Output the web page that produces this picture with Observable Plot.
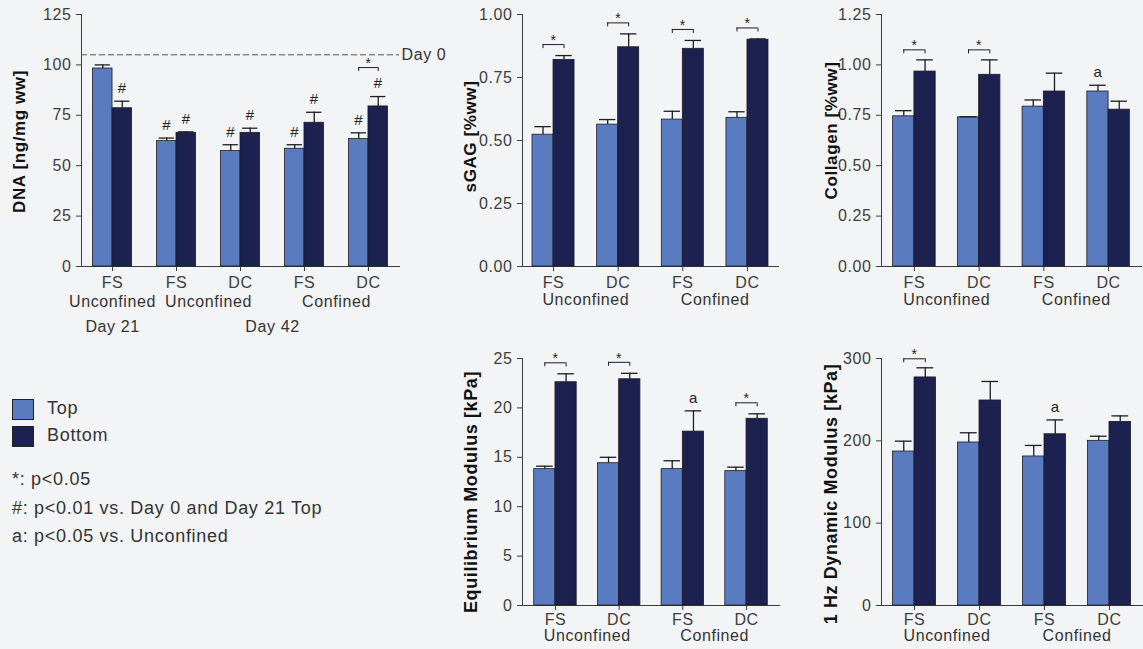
<!DOCTYPE html>
<html>
<head>
<meta charset="utf-8">
<script src="https://cdn.jsdelivr.net/npm/d3@7"></script>
<script src="https://cdn.jsdelivr.net/npm/@observablehq/plot@0.6"></script>
<style>
  body { margin: 0; background: #f3f4f6; }
  #fig { position: relative; width: 1143px; height: 649px; overflow: hidden;
         font-family: "Liberation Sans", Arial, sans-serif; background: #f3f4f6; }
  .panel { position: absolute; }
  .panel svg text { letter-spacing: 0.6px; }
  .panel g[aria-label="ylabel"] text { letter-spacing: 1.5px; }
  .legend { position: absolute; left: 12px; color: #333; font-size: 18px; letter-spacing: 0.7px; white-space: nowrap; }
  .sw { position: absolute; left: 12px; width: 22px; height: 21px; box-sizing: border-box; border: 1px solid #222; }
</style>
</head>
<body>
<div id="fig"></div>
<script>
// ---------- colours / series ----------
const seriesNames = ["Top", "Bottom"];
const TOP_COLOR = "#5b7bc0";
const BOTTOM_COLOR = "#1d2150";
const INK = "#1c1c24";
const FONT = "'Liberation Sans', Arial, sans-serif";

// ---------- DNA ----------
const dnaCategories = ["FS-Unconf-D21", "FS-Unconf-D42", "DC-Unconf-D42", "FS-Conf-D42", "DC-Conf-D42"];
const dnaTickLabels = ["FS", "FS", "DC", "FS", "DC"];
const dnaTop = [98.2, 62.2, 57.3, 58.4, 63.3];
const dnaTopErr = [1.8, 1.5, 3.1, 2.0, 3.0];
const dnaBottom = [78.5, 66.3, 66.3, 71.3, 79.4];
const dnaBottomErr = [3.5, 0.5, 2.3, 5.2, 4.9];
const dnaTopNote = ["", "#", "#", "#", "#"];
const dnaBottomNote = ["#", "#", "#", "#", "#"];
const dnaStar = [false, false, false, false, true];
const dnaDay0 = 105;
const dnaYTicks = [0, 25, 50, 75, 100, 125];
const dnaRow2 = [["Unconfined", 0, 0], ["Unconfined", 1, 2], ["Confined", 3, 4]];
const dnaRow3 = [["Day 21", 0, 0], ["Day 42", 1, 4]];

// ---------- shared 4-group layout ----------
const fourCategories = ["FS-Unconf", "DC-Unconf", "FS-Conf", "DC-Conf"];
const fourTickLabels = ["FS", "DC", "FS", "DC"];
const fourRow2 = [["Unconfined", 0, 1], ["Confined", 2, 3]];

// ---------- sGAG ----------
const sgagTop = [0.523, 0.563, 0.583, 0.590];
const sgagTopErr = [0.032, 0.020, 0.033, 0.024];
const sgagBottom = [0.820, 0.870, 0.864, 0.900];
const sgagBottomErr = [0.017, 0.053, 0.033, 0.003];
const sgagStar = [true, true, true, true];
const sgagYTicks = [0, 0.25, 0.5, 0.75, 1.0];

// ---------- Collagen ----------
const colTop = [0.745, 0.740, 0.793, 0.868];
const colTopErr = [0.028, 0.003, 0.033, 0.031];
const colBottom = [0.967, 0.951, 0.868, 0.778];
const colBottomErr = [0.058, 0.074, 0.091, 0.042];
const colTopNote = ["", "", "", "a"];
const colStar = [true, true, false, false];
const colYTicks = [0, 0.25, 0.5, 0.75, 1.0, 1.25];

// ---------- Equilibrium modulus ----------
const eqTop = [13.8, 14.4, 13.8, 13.6];
const eqTopErr = [0.3, 0.6, 0.85, 0.4];
const eqBottom = [22.6, 22.9, 17.6, 18.9];
const eqBottomErr = [0.85, 0.6, 2.1, 0.5];
const eqBottomNote = ["", "", "a", ""];
const eqStar = [true, true, false, true];
const eqYTicks = [0, 5, 10, 15, 20, 25];

// ---------- 1 Hz dynamic modulus ----------
const dynTop = [187, 198, 181, 200];
const dynTopErr = [12.6, 11.8, 13.4, 5.6];
const dynBottom = [277, 249, 208, 223];
const dynBottomErr = [11.7, 23.1, 17.4, 7.3];
const dynBottomNote = ["", "", "a", ""];
const dynStar = [true, false, false, false];
const dynYTicks = [0, 100, 200, 300];

// ---------- legend text ----------
const legendNotes = ["*: p<0.05", "#: p<0.01 vs. Day 0 and Day 21 Top", "a: p<0.05 vs. Unconfined"];

function makePanel(p) {
  const n = p.categories.length;
  const plotW = p.width - p.marginLeft - p.marginRight;
  const plotH = p.height - p.marginTop - p.marginBottom;
  const step = plotW / (n - p.padInner + 2 * p.padOuter);
  const bw = step * (1 - p.padInner);
  const half = bw / 2, q = bw / 4, cap = half * 0.78;
  const ppu = plotH / (p.yDomain[1] - p.yDomain[0]);
  const topNote = p.topNote || p.categories.map(() => "");
  const bottomNote = p.bottomNote || p.categories.map(() => "");
  const topRows = p.categories.map((c, i) => ({c, v: p.top[i], e: p.topErr[i], note: topNote[i]}));
  const botRows = p.categories.map((c, i) => ({c, v: p.bottom[i], e: p.bottomErr[i], note: bottomNote[i]}));
  const sigRows = p.categories
    .map((c, i) => ({c, on: p.star[i], level: Math.max(p.top[i] + p.topErr[i], p.bottom[i] + p.bottomErr[i])}))
    .filter(d => d.on);
  const bDy = p.bracketDy;

  const marks = [
    Plot.barY(topRows, {x: "c", y: "v", fill: TOP_COLOR, stroke: INK, strokeWidth: 0.8, insetRight: half}),
    Plot.barY(botRows, {x: "c", y: "v", fill: BOTTOM_COLOR, stroke: INK, strokeWidth: 0.8, insetLeft: half}),
    Plot.ruleX(topRows, {x: "c", y1: "v", y2: d => d.v + d.e, dx: -q, stroke: INK, strokeWidth: 1.3}),
    Plot.ruleX(botRows, {x: "c", y1: "v", y2: d => d.v + d.e, dx: q, stroke: INK, strokeWidth: 1.3}),
    Plot.tickY(topRows, {x: "c", y: d => d.v + d.e, insetLeft: q - cap / 2, insetRight: bw - q - cap / 2, stroke: INK, strokeWidth: 1.3}),
    Plot.tickY(botRows, {x: "c", y: d => d.v + d.e, insetLeft: 3 * q - cap / 2, insetRight: q - cap / 2, stroke: INK, strokeWidth: 1.3}),
    Plot.text(topRows.filter(d => d.note), {x: "c", y: d => d.v + d.e, text: "note", dx: -q, dy: -13, fontSize: 15, fill: "#222"}),
    Plot.text(botRows.filter(d => d.note), {x: "c", y: d => d.v + d.e, text: "note", dx: q, dy: -13, fontSize: 15, fill: "#222"}),
    Plot.tickY(sigRows, {x: "c", y: "level", insetLeft: q, insetRight: q, dy: bDy, stroke: INK, strokeWidth: 1}),
    Plot.ruleX(sigRows, {x: "c", y1: d => d.level - 4 / ppu, y2: "level", dx: -q, dy: bDy, stroke: INK, strokeWidth: 1}),
    Plot.ruleX(sigRows, {x: "c", y1: d => d.level - 4 / ppu, y2: "level", dx: q, dy: bDy, stroke: INK, strokeWidth: 1}),
    Plot.text(sigRows, {x: "c", y: "level", text: () => "*", dy: bDy - 4, fontSize: 14, fill: "#222"}),
    Plot.text([p.yLabel], {text: d => d, frameAnchor: "left", textAnchor: "middle", rotate: -90, dx: -p.labelOffset, dy: p.labelDy,
      fontWeight: "bold", fontSize: p.labelSize, fill: "#111", ariaLabel: "ylabel"})
  ];
  if (p.refValue != null) {
    marks.push(Plot.ruleY([p.refValue], {stroke: "#555", strokeWidth: 1, strokeDasharray: "6,3"}));
    marks.push(Plot.text([p.refValue], {y: d => d, text: () => p.refLabel, frameAnchor: "right", textAnchor: "start", dx: 2, fontSize: 16, fill: "#333"}));
  }
  for (const row of p.rows) {
    for (const r of row.labels) {
      marks.push(Plot.text([r], {x: () => p.categories[r[1]], text: () => r[0], frameAnchor: "bottom",
        dy: row.dy, dx: (r[2] - r[1]) * step / 2, fontSize: 16, fill: "#333"}));
    }
  }

  const svg = Plot.plot({
    width: p.width, height: p.height,
    marginLeft: p.marginLeft, marginRight: p.marginRight, marginTop: p.marginTop, marginBottom: p.marginBottom,
    style: {background: "transparent", fontFamily: FONT, fontSize: "16px", color: "#3d3d3d", overflow: "visible"},
    x: {type: "band", domain: p.categories, paddingInner: p.padInner, paddingOuter: p.padOuter, align: 0.5, round: false,
        tickFormat: d => p.tickLabels[p.categories.indexOf(d)], tickSize: 5, tickPadding: p.xPad, line: true, label: null},
    y: {domain: p.yDomain, ticks: p.yTicks, tickFormat: p.yFormat, tickSize: 5, tickPadding: 5, line: true, label: null},
    marks
  });
  const wrap = document.createElement("div");
  wrap.className = "panel";
  wrap.style.left = p.left + "px";
  wrap.style.top = p.top0 + "px";
  wrap.appendChild(svg);
  document.getElementById("fig").appendChild(wrap);
}

const fmt2 = d3.format(".2f");
const fmt0 = d3.format("d");

makePanel({
  left: 0, top0: 0, width: 445, height: 345, marginLeft: 81, marginRight: 46, marginTop: 14, marginBottom: 79,
  padInner: 0.39, padOuter: 0.18, xPad: 5,
  categories: dnaCategories, tickLabels: dnaTickLabels,
  top: dnaTop, topErr: dnaTopErr, bottom: dnaBottom, bottomErr: dnaBottomErr,
  topNote: dnaTopNote, bottomNote: dnaBottomNote, star: dnaStar, bracketDy: -29,
  yDomain: [0, 125], yTicks: dnaYTicks, yFormat: fmt0,
  yLabel: "DNA [ng/mg ww]", labelOffset: 62, labelDy: 1, labelSize: 17,
  refValue: dnaDay0, refLabel: "Day 0",
  rows: [{dy: 40, labels: dnaRow2}, {dy: 65, labels: dnaRow3}]
});

makePanel({
  left: 440, top0: 0, width: 345, height: 320, marginLeft: 82, marginRight: 7, marginTop: 14, marginBottom: 54,
  padInner: 0.35, padOuter: 0.155, xPad: 5,
  categories: fourCategories, tickLabels: fourTickLabels,
  top: sgagTop, topErr: sgagTopErr, bottom: sgagBottom, bottomErr: sgagBottomErr,
  star: sgagStar, bracketDy: -11,
  yDomain: [0, 1], yTicks: sgagYTicks, yFormat: fmt2,
  yLabel: "sGAG [%ww]", labelOffset: 52, labelDy: -4, labelSize: 17,
  rows: [{dy: 38, labels: fourRow2}]
});

makePanel({
  left: 790, top0: 0, width: 353, height: 320, marginLeft: 91, marginRight: 2, marginTop: 14, marginBottom: 54,
  padInner: 0.343, padOuter: 0.18, xPad: 5,
  categories: fourCategories, tickLabels: fourTickLabels,
  top: colTop, topErr: colTopErr, bottom: colBottom, bottomErr: colBottomErr,
  topNote: colTopNote, star: colStar, bracketDy: -10,
  yDomain: [0, 1.25], yTicks: colYTicks, yFormat: fmt2,
  yLabel: "Collagen [%ww]", labelOffset: 50, labelDy: -10, labelSize: 17,
  rows: [{dy: 38, labels: fourRow2}]
});

makePanel({
  left: 440, top0: 320, width: 345, height: 329, marginLeft: 82, marginRight: 6, marginTop: 38, marginBottom: 44,
  padInner: 0.333, padOuter: 0.184, xPad: 3,
  categories: fourCategories, tickLabels: fourTickLabels,
  top: eqTop, topErr: eqTopErr, bottom: eqBottom, bottomErr: eqBottomErr,
  bottomNote: eqBottomNote, star: eqStar, bracketDy: -11,
  yDomain: [0, 25], yTicks: eqYTicks, yFormat: fmt0,
  yLabel: "Equilibrium Modulus [kPa]", labelOffset: 51, labelDy: 10, labelSize: 18,
  rows: [{dy: 35, labels: fourRow2}]
});

makePanel({
  left: 790, top0: 320, width: 353, height: 329, marginLeft: 91, marginRight: 1, marginTop: 38, marginBottom: 44,
  padInner: 0.338, padOuter: 0.177, xPad: 3,
  categories: fourCategories, tickLabels: fourTickLabels,
  top: dynTop, topErr: dynTopErr, bottom: dynBottom, bottomErr: dynBottomErr,
  bottomNote: dynBottomNote, star: dynStar, bracketDy: -9,
  yDomain: [0, 300], yTicks: dynYTicks, yFormat: fmt0,
  yLabel: "1 Hz Dynamic Modulus [kPa]", labelOffset: 50, labelDy: 12, labelSize: 18,
  rows: [{dy: 35, labels: fourRow2}]
});

// ---------- legend (HTML, beside the charts) ----------
const fig = document.getElementById("fig");
const swatchColors = [TOP_COLOR, BOTTOM_COLOR];
const swatchTops = [399, 426];
seriesNames.forEach((name, i) => {
  const sw = document.createElement("div");
  sw.className = "sw";
  sw.style.top = swatchTops[i] + "px";
  sw.style.background = swatchColors[i];
  fig.appendChild(sw);
  const t = document.createElement("div");
  t.className = "legend";
  t.style.left = "47px";
  t.style.top = (swatchTops[i] - 1) + "px";
  t.textContent = name;
  fig.appendChild(t);
});
const noteTops = [469, 498, 526];
legendNotes.forEach((s, i) => {
  const t = document.createElement("div");
  t.className = "legend";
  t.style.top = noteTops[i] + "px";
  t.textContent = s;
  fig.appendChild(t);
});
</script>
</body>
</html>
